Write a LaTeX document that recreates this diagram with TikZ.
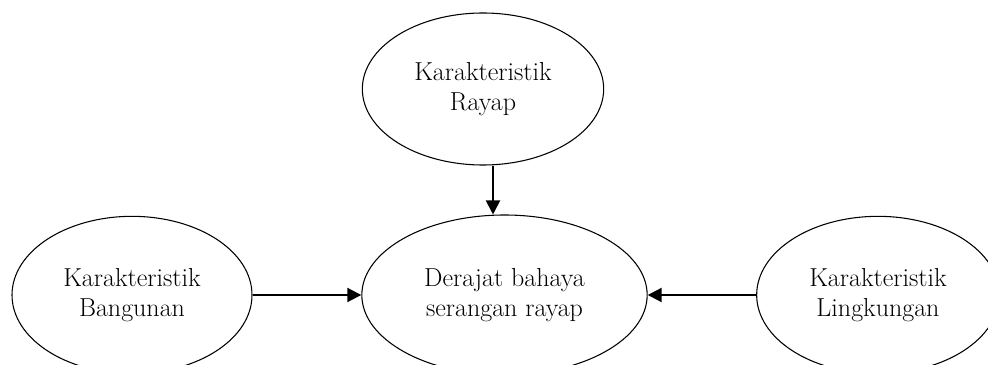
\documentclass[tikz,border=0pt]{standalone}
\usetikzlibrary{shapes.geometric,arrows.meta}

\begin{document}
\begin{tikzpicture}[x=0.75pt,y=0.75pt,
    faktor/.style={ellipse,draw,line width=0.8pt,inner sep=0pt,align=center,
      font=\fontsize{19.5}{22}\selectfont},
    panah/.style={-{Triangle[length=10.5pt,width=10.5pt]},line width=1.5pt}]
          \useasboundingbox (0,0) rectangle (988,364);
          \node[faktor,minimum width=181pt,minimum height=114pt] (rayap) at (483,275)
            {Karakteristik\\Rayap};                                   % atas
          \node[faktor,minimum width=214pt,minimum height=120pt] (derajat) at (504.5,69)
            {Derajat bahaya\\serangan rayap};                          % tengah
          \node[faktor,minimum width=180pt,minimum height=118pt] (bangunan) at (132,69)
            {Karakteristik\\Bangunan};                                 % kiri
          \node[faktor,minimum width=182pt,minimum height=118pt] (lingkungan) at (878,69)
            {Karakteristik\\Lingkungan};                               % kanan
          \draw[panah] ([xshift=7.5pt]rayap.south) -- ([xshift=7.5pt]rayap.south |- derajat.north);
          \draw[panah] (bangunan.east) -- (derajat.west);
          \draw[panah] (lingkungan.west) -- (derajat.east);
        \end{tikzpicture}
\end{document}
